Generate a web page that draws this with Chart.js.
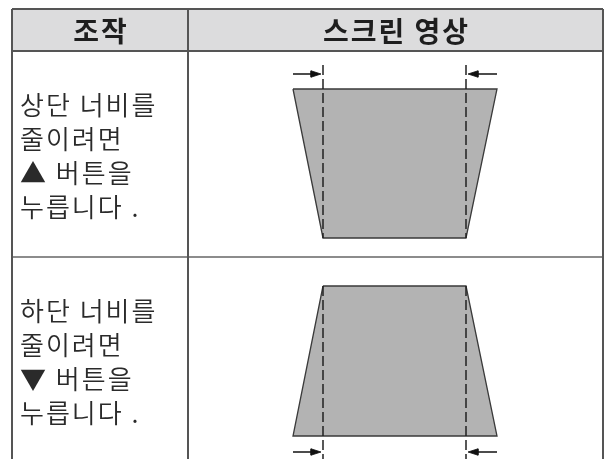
<!DOCTYPE html>
<html>
<head>
<meta charset="utf-8">
<script src="https://cdn.jsdelivr.net/npm/chart.js@4.4.1/dist/chart.umd.min.js"></script>
<style>
html, body { margin: 0; padding: 0; background: #fff; }
#chart { display: block; }
</style>
</head>
<body>
<canvas id="chart" width="608" height="459"></canvas>
<script>
// 표 구조 (축 단위)
const columnEdges = [12, 188, 603];
const rowEdges = [9, 51, 257, 459];
const headers = ['조작', '스크린 영상'];
const instructions = [
    ['상단 너비를', '줄이려면', '▲ 버튼을', '누릅니다 .'],
    ['하단 너비를', '줄이려면', '▼ 버튼을', '누릅니다 .']
];

// 스크린 영상 사다리꼴
const topEdgeY = [89, 286];
const bottomEdgeY = [238, 436];
const topEdgeX = [[293, 497], [323, 466]];
const bottomEdgeX = [[323, 466], [293, 497]];

// 점선 가이드
const guideX = [323, 466];
const guideY = [[65, 238], [286, 459]];

// 화살표
const arrowY = [74, 452];
const arrowFromX = [293, 497];
const arrowToX = [321, 468];

function lineSet(points, color, width, order, extra) {
    return Object.assign({
        data: points,
        showLine: true,
        borderColor: color,
        borderWidth: width,
        pointRadius: 0,
        tension: 0,
        spanGaps: false,
        fill: false,
        order: order
    }, extra || {});
}

const datasets = [];

// 헤더 배경
datasets.push(lineSet(
    [{x: columnEdges[0], y: rowEdges[1]}, {x: columnEdges[2], y: rowEdges[1]}],
    'rgba(0,0,0,0)', 0, 20,
    {fill: {value: rowEdges[0]}, backgroundColor: '#dcdcdd'}
));

// 표 선
const tablePts = [];
function seg(x1, y1, x2, y2) {
    tablePts.push({x: x1, y: y1}, {x: x2, y: y2}, {x: x2, y: null});
}
seg(columnEdges[0], rowEdges[0], columnEdges[2], rowEdges[0]);
seg(columnEdges[0], rowEdges[0], columnEdges[0], rowEdges[3]);
seg(columnEdges[2], rowEdges[0], columnEdges[2], rowEdges[3]);
seg(columnEdges[1], rowEdges[0], columnEdges[1], rowEdges[3]);
seg(columnEdges[0], rowEdges[1], columnEdges[2], rowEdges[1]);
datasets.push(lineSet(tablePts, '#555555', 2, 2));
datasets.push(lineSet(
    [{x: columnEdges[0], y: rowEdges[2]}, {x: columnEdges[2], y: rowEdges[2]}],
    '#666666', 1.6, 2
));

// 사다리꼴
for (let i = 0; i < topEdgeY.length; i++) {
    const pts = [
        {x: topEdgeX[i][0], y: topEdgeY[i]},
        {x: topEdgeX[i][1], y: topEdgeY[i]},
        {x: bottomEdgeX[i][1], y: bottomEdgeY[i]},
        {x: bottomEdgeX[i][0], y: bottomEdgeY[i]},
        {x: topEdgeX[i][0], y: topEdgeY[i]}
    ];
    datasets.push(lineSet(pts, '#3a3a3a', 1.3, 10,
        {fill: 'shape', backgroundColor: '#b3b3b3'}));
}

// 점선
for (let i = 0; i < guideY.length; i++) {
    const pts = [];
    guideX.forEach(x => {
        pts.push({x: x, y: guideY[i][0]}, {x: x, y: guideY[i][1]}, {x: x, y: null});
    });
    datasets.push(lineSet(pts, '#222222', 1.5, 1, {borderDash: [10, 4]}));
}

// 화살표
for (let i = 0; i < arrowY.length; i++) {
    for (let j = 0; j < arrowFromX.length; j++) {
        const from = arrowFromX[j];
        const to = arrowToX[j];
        const dir = Math.sign(to - from);
        const base = to - dir * 10;
        datasets.push(lineSet(
            [{x: from, y: arrowY[i]}, {x: base, y: arrowY[i]}],
            '#111111', 1.5, 0
        ));
        datasets.push(lineSet(
            [{x: to, y: arrowY[i]}, {x: base, y: arrowY[i] - 3.2},
             {x: base, y: arrowY[i] + 3.2}, {x: to, y: arrowY[i]}],
            '#111111', 0.8, 0,
            {fill: 'shape', backgroundColor: '#111111'}
        ));
    }
}

const textPlugin = {
    id: 'tableText',
    afterDatasetsDraw(chart) {
        const ctx = chart.ctx;
        const xs = chart.scales.x;
        const ys = chart.scales.y;
        ctx.save();
        ctx.fillStyle = '#1e1e1e';
        ctx.textAlign = 'center';
        ctx.textBaseline = 'middle';
        ctx.font = 'bold 28px "Noto Sans CJK KR"';
        ctx.letterSpacing = '2px';
        const headY = ys.getPixelForValue((rowEdges[0] + rowEdges[1]) / 2 + 1);
        headers.forEach((h, i) => {
            const cx = xs.getPixelForValue((columnEdges[i] + columnEdges[i + 1]) / 2);
            ctx.fillText(h, cx + 1, headY);
        });

        ctx.fillStyle = '#2a2a2a';
        ctx.textAlign = 'left';
        ctx.font = '350 26px "Noto Sans CJK KR"';
        ctx.letterSpacing = '2px';
        instructions.forEach((lines, r) => {
            const top = rowEdges[r + 1];
            lines.forEach((t, k) => {
                const x = xs.getPixelForValue(columnEdges[0] + 8);
                const y = ys.getPixelForValue(top + 54 + k * 34);
                ctx.fillText(t, x, y);
            });
        });
        ctx.restore();
    }
};

new Chart(document.getElementById('chart'), {
    type: 'scatter',
    data: {datasets: datasets},
    options: {
        responsive: false,
        animation: false,
        events: [],
        layout: {padding: 0},
        plugins: {legend: {display: false}, tooltip: {enabled: false}},
        scales: {
            x: {type: 'linear', min: 0, max: 608, display: false},
            y: {type: 'linear', min: 0, max: 459, reverse: true, display: false}
        }
    },
    plugins: [textPlugin]
});
</script>
</body>
</html>
